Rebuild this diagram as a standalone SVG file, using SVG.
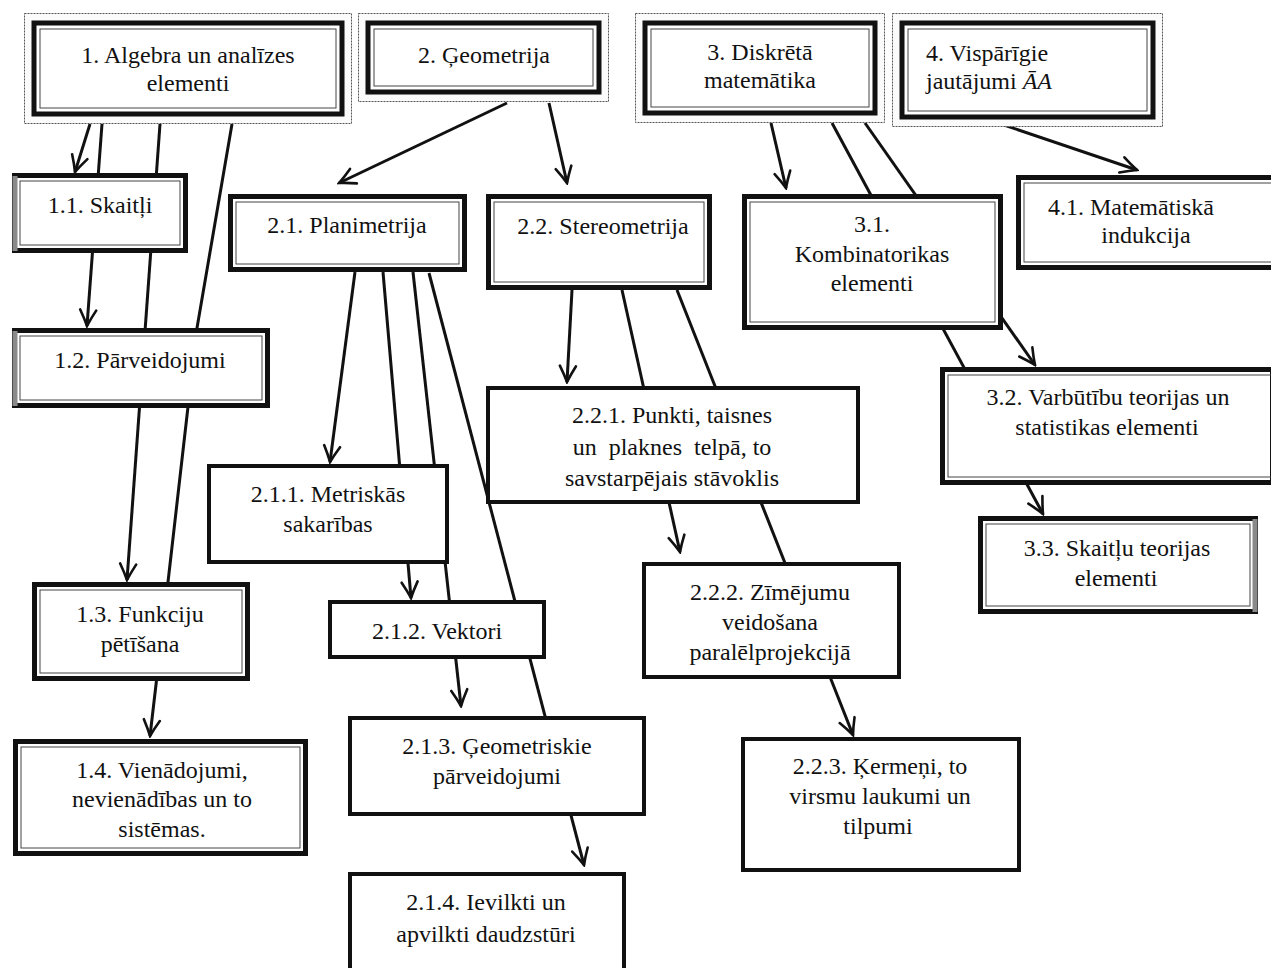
<svg xmlns="http://www.w3.org/2000/svg" width="1271" height="968" viewBox="0 0 1271 968">
<style>
.o{fill:#fbfbfb;stroke:#555;stroke-width:1;stroke-dasharray:2 1}
.k{fill:#fff;stroke:#111;stroke-width:5}
.t{fill:none;stroke:#444;stroke-width:1}
.s{fill:#fff;stroke:#111;stroke-width:4}
.g{fill:none;stroke:#8a8a8a;stroke-width:5}
.e{fill:none;stroke:#111;stroke-width:3;stroke-linejoin:round;marker-end:url(#ah)}
.n{fill:none;stroke:#111;stroke-width:3}
text{font-family:"Liberation Serif","Times New Roman",serif;font-size:24px;fill:#111}
.c{text-anchor:middle}
</style>
<defs>
<marker id="ah" markerUnits="userSpaceOnUse" markerWidth="20" markerHeight="20" viewBox="0 0 20 20" refX="18" refY="10" orient="auto">
<path d="M2,2 Q11,7 18,10 Q11,13 2,18" fill="none" stroke="#111" stroke-width="2.6" stroke-linecap="round"/>
</marker>
</defs>
<rect width="1271" height="968" fill="#fff"/>
<g id="connectors">
<path class="e" d="M90,124 L75,172"/>
<path class="e" d="M102,124 L87,326"/>
<path class="e" d="M160,124 L127,580"/>
<path class="e" d="M232,124 L197,328 L168,582 L150,736"/>
<path class="e" d="M507,103 L339,183"/>
<path class="e" d="M549,103 L567,183"/>
<path class="e" d="M771,123 L786,188"/>
<path class="e" d="M832,123 L1043,514"/>
<path class="e" d="M865,123 L1035,365"/>
<path class="e" d="M998,123 L1137,170"/>
<path class="e" d="M355,272 L330,462"/>
<path class="e" d="M383,272 L411,598"/>
<path class="e" d="M413,272 L461,706"/>
<path class="e" d="M429,273 L584,865"/>
<path class="e" d="M572,290 L567,382"/>
<path class="e" d="M622,290 L680,552"/>
<path class="e" d="M677,290 L853,735"/>
</g>
<g id="n1">
<rect class="o" x="24.5" y="13.5" width="327" height="110"/>
<rect class="k" x="34" y="23" width="308" height="91"/>
<rect class="t" x="40" y="29" width="296" height="79"/>
<text class="c" x="188" y="63">1. Algebra un analīzes</text>
<text class="c" x="188" y="91">elementi</text>
</g>
<g id="n2">
<rect class="o" x="358.5" y="13.5" width="250" height="88"/>
<rect class="k" x="368" y="23" width="231" height="69"/>
<rect class="t" x="374" y="29" width="219" height="57"/>
<text class="c" x="484" y="63">2. Ģeometrija</text>
</g>
<g id="n3">
<rect class="o" x="635.5" y="13.5" width="249" height="109"/>
<rect class="k" x="645" y="23" width="230" height="90"/>
<rect class="t" x="651" y="29" width="218" height="78"/>
<text class="c" x="760" y="60">3. Diskrētā</text>
<text class="c" x="760" y="88">matemātika</text>
</g>
<g id="n4">
<rect class="o" x="892.5" y="13.5" width="270" height="113"/>
<rect class="k" x="902" y="23" width="251" height="94"/>
<rect class="t" x="908" y="29" width="239" height="82"/>
<text x="926" y="61">4. Vispārīgie</text>
<text x="926" y="89">jautājumi <tspan font-style="italic">ĀA</tspan></text>
</g>
<g id="n11">
<rect class="k" x="14.5" y="175.5" width="171" height="75"/>
<rect class="t" x="20" y="181" width="160" height="64"/>
<line class="g" x1="15" y1="176" x2="15" y2="251"/>
<text class="c" x="100" y="213">1.1. Skaitļi</text>
</g>
<g id="n12">
<rect class="k" x="14.5" y="330.5" width="253" height="75"/>
<rect class="t" x="20" y="336" width="242" height="64"/>
<line class="g" x1="15" y1="331" x2="15" y2="406"/>
<text class="c" x="140" y="368">1.2. Pārveidojumi</text>
</g>
<g id="n13">
<rect class="k" x="34.5" y="584.5" width="213" height="94"/>
<rect class="t" x="40" y="590" width="202" height="83"/>
<text class="c" x="140" y="622">1.3. Funkciju</text>
<text class="c" x="140" y="652">pētīšana</text>
</g>
<g id="n14">
<rect class="k" x="15.5" y="741.5" width="290" height="112"/>
<rect class="t" x="21" y="747" width="279" height="101"/>
<text class="c" x="162" y="778">1.4. Vienādojumi,</text>
<text class="c" x="162" y="807">nevienādības un to</text>
<text class="c" x="162" y="837">sistēmas.</text>
</g>
<g id="n21">
<rect class="k" x="230.5" y="196.5" width="234" height="73"/>
<rect class="t" x="236" y="202" width="223" height="62"/>
<text class="c" x="347" y="233">2.1. Planimetrija</text>
</g>
<g id="n22">
<rect class="k" x="488.5" y="196.5" width="221" height="91"/>
<rect class="t" x="494" y="202" width="210" height="80"/>
<text class="c" x="603" y="234">2.2. Stereometrija</text>
</g>
<g id="n211">
<rect class="s" x="209" y="466" width="238" height="96"/>
<text class="c" x="328" y="502">2.1.1. Metriskās</text>
<text class="c" x="328" y="532">sakarības</text>
</g>
<g id="n212">
<rect class="s" x="330" y="602" width="214" height="55"/>
<text class="c" x="437" y="639">2.1.2. Vektori</text>
</g>
<g id="n213">
<rect class="s" x="350" y="718" width="294" height="96"/>
<text class="c" x="497" y="754">2.1.3. Ģeometriskie</text>
<text class="c" x="497" y="784">pārveidojumi</text>
</g>
<g id="n214">
<rect class="s" x="350" y="874" width="274" height="110"/>
<text class="c" x="486" y="910">2.1.4. Ievilkti un</text>
<text class="c" x="486" y="942">apvilkti daudzstūri</text>
</g>
<g id="n221">
<rect class="s" x="488" y="388" width="370" height="114"/>
<text class="c" x="672" y="423">2.2.1. Punkti, taisnes</text>
<text class="c" x="672" y="455" xml:space="preserve">un  plaknes  telpā, to</text>
<text class="c" x="672" y="486">savstarpējais stāvoklis</text>
</g>
<g id="n222">
<rect class="s" x="644" y="564" width="255" height="113"/>
<text class="c" x="770" y="600">2.2.2. Zīmējumu</text>
<text class="c" x="770" y="630">veidošana</text>
<text class="c" x="770" y="660">paralēlprojekcijā</text>
</g>
<g id="n223">
<rect class="s" x="743" y="739" width="276" height="131"/>
<text class="c" x="880" y="774">2.2.3. Ķermeņi, to</text>
<text class="c" x="880" y="804">virsmu laukumi un</text>
<text class="c" x="878" y="834">tilpumi</text>
</g>
<g id="n31">
<rect class="k" x="744.5" y="196.5" width="256" height="131"/>
<rect class="t" x="750" y="202" width="245" height="120"/>
<text class="c" x="872" y="232">3.1.</text>
<text class="c" x="872" y="262">Kombinatorikas</text>
<text class="c" x="872" y="291">elementi</text>
</g>
<g id="n32">
<rect class="k" x="942.5" y="369.5" width="330" height="113"/>
<rect class="t" x="948" y="375" width="330" height="102"/>
<text class="c" x="1108" y="405">3.2. Varbūtību teorijas un</text>
<text class="c" x="1107" y="435">statistikas elementi</text>
</g>
<g id="n33">
<rect class="k" x="980.5" y="518.5" width="275" height="93"/>
<rect class="t" x="986" y="524" width="264" height="82"/>
<line class="g" x1="1255" y1="519" x2="1255" y2="612"/>
<text class="c" x="1117" y="556">3.3. Skaitļu teorijas</text>
<text class="c" x="1116" y="586">elementi</text>
</g>
<g id="n41">
<rect class="k" x="1018.5" y="177.5" width="256" height="90"/>
<rect class="t" x="1024" y="183" width="250" height="79"/>
<text class="c" x="1131" y="215">4.1. Matemātiskā</text>
<text class="c" x="1146" y="243">indukcija</text>
</g>
</svg>
